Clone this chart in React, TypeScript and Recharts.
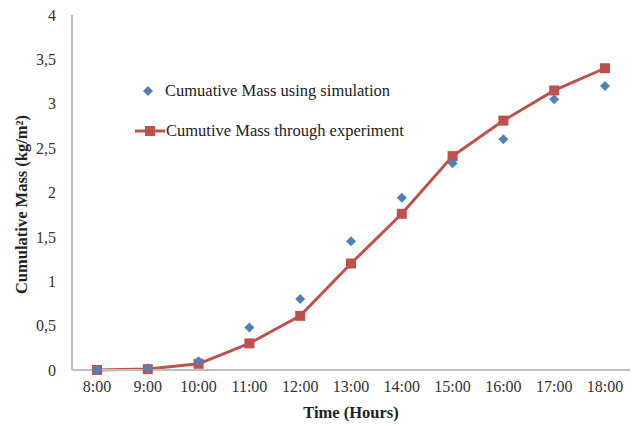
import React from "react";
import {
  ComposedChart,
  Line,
  XAxis,
  YAxis,
} from "recharts";

const hours = ["8:00", "9:00", "10:00", "11:00", "12:00", "13:00", "14:00", "15:00", "16:00", "17:00", "18:00"];
const simulation = [0, 0.02, 0.1, 0.48, 0.8, 1.45, 1.94, 2.33, 2.6, 3.05, 3.2];
const experiment = [0, 0.01, 0.07, 0.3, 0.61, 1.2, 1.76, 2.41, 2.81, 3.15, 3.4];
const yTicks = [0, 0.5, 1, 1.5, 2, 2.5, 3, 3.5, 4];

const data = hours.map((h, i) => ({
  time: h,
  simulation: simulation[i],
  experiment: experiment[i],
}));

const BLUE = "#4f81bd";
const RED = "#c0504d";
const FONT = "'Liberation Serif', 'Times New Roman', serif";

const Diamond = (props: any) => {
  const { cx, cy } = props;
  if (cx == null || cy == null) return null;
  const r = 5;
  return (
    <polygon
      points={`${cx},${cy - r} ${cx + r},${cy} ${cx},${cy + r} ${cx - r},${cy}`}
      fill={BLUE}
    />
  );
};

const Square = (props: any) => {
  const { cx, cy } = props;
  if (cx == null || cy == null) return null;
  return <rect x={cx - 5} y={cy - 5} width={10} height={10} fill={RED} />;
};

// y title: a bit below the plot centre, like the original
const YTitle = (props: any) => {
  const vb = props.viewBox || {};
  const x = 21;
  const y = (vb.y ?? 15) + (vb.height ?? 355) / 2 + 12;
  return (
    <text
      x={x}
      y={y}
      transform={`rotate(-90, ${x}, ${y})`}
      textAnchor="middle"
      dominantBaseline="central"
      fontFamily={FONT}
      fontSize={16.5}
      fontWeight="bold"
      fill="#222"
    >
      Cumulative Mass (kg/m²)
    </text>
  );
};

// legend drawn as an overlay so it doesn't shrink the plot area
const LegendBox = () => (
  <svg
    width={340}
    height={70}
    style={{ position: "absolute", left: 130, top: 75, fontFamily: FONT }}
  >
    <polygon points="18,11 23,16 18,21 13,16" fill={BLUE} />
    <text x={35} y={21} fontSize={16.5} fill="#222">
      Cumuative Mass using simulation
    </text>
    <line x1={5} y1={56} x2={35} y2={56} stroke={RED} strokeWidth={3} />
    <rect x={15} y={51} width={10} height={10} fill={RED} />
    <text x={36} y={61} fontSize={16.5} fill="#222">
      Cumutive Mass through experiment
    </text>
  </svg>
);

export default function App() {
  return (
    <div style={{ position: "absolute", left: 0, top: 0, width: 633, height: 426, background: "#fff" }}>
      <ComposedChart
        width={633}
        height={426}
        data={data}
        margin={{ top: 15, right: 3, left: 0, bottom: 0 }}
      >
        <XAxis
          dataKey="time"
          height={56}
          padding={{ left: 25, right: 25 }}
          tickLine={false}
          tickSize={0}
          tickMargin={11}
          axisLine={{ stroke: "#bfbfbf", strokeWidth: 2 }}
          tick={{ fontSize: 16, fill: "#333", fontFamily: FONT }}
          interval={0}
          label={{
            value: "Time (Hours)",
            position: "insideBottom",
            offset: 8,
            style: { fontSize: 16.5, fontWeight: "bold", fill: "#222", fontFamily: FONT },
          }}
        />
        <YAxis
          width={72}
          domain={[0, 4]}
          ticks={yTicks}
          tickLine={false}
          tickSize={0}
          tickMargin={16}
          axisLine={{ stroke: "#bfbfbf", strokeWidth: 2 }}
          tick={{ fontSize: 16, fill: "#333", fontFamily: FONT }}
          tickFormatter={(v: number) => String(v).replace(".", ",")}
          label={{ content: (p: any) => <YTitle {...p} /> }}
        />
        <Line
          dataKey="experiment"
          stroke={RED}
          strokeWidth={3}
          dot={<Square />}
          activeDot={false}
          isAnimationActive={false}
        />
        <Line
          dataKey="simulation"
          stroke="none"
          dot={<Diamond />}
          activeDot={false}
          isAnimationActive={false}
        />
      </ComposedChart>
      <LegendBox />
    </div>
  );
}
